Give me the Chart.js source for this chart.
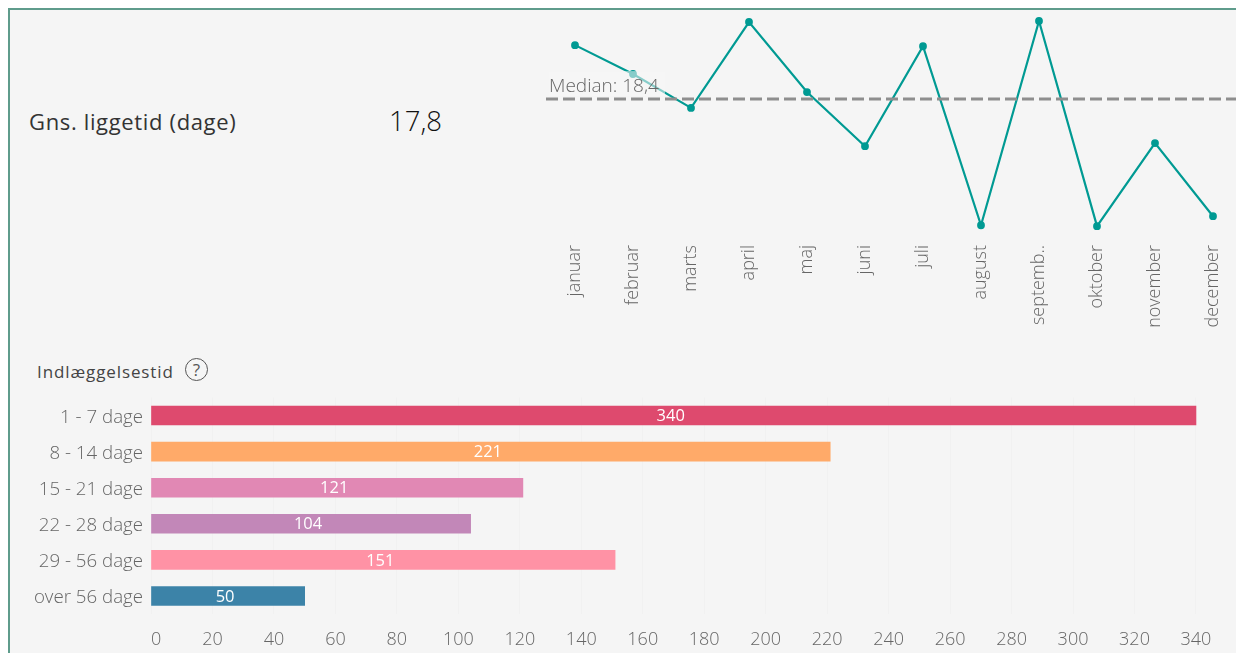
<!DOCTYPE html>
<html lang="da"><head><meta charset="utf-8">
<script src="https://cdn.jsdelivr.net/npm/chart.js@4"></script>
<style>
html,body{margin:0;padding:0;background:#fff}
body{width:1236px;height:653px;overflow:hidden;position:relative;font-family:"Open Sans",sans-serif}
#panel{position:absolute;left:8px;top:8px;width:1240px;height:660px;background:#f5f5f5;border-left:2px solid #5f9c8c;border-top:2px solid #5f9c8c;box-sizing:border-box}
.t{position:absolute;white-space:nowrap;line-height:1}
canvas{position:absolute}
</style></head><body>
<div id="panel"></div>
<div class="t" style="left:29px;top:110px;font-size:22px;color:#333;letter-spacing:.65px">Gns. liggetid (dage)</div>
<div class="t" style="left:389px;top:107px;font-size:27.5px;font-weight:300;color:#111">17,8</div>
<div class="t" style="left:37px;top:363px;font-size:17px;color:#444;letter-spacing:.9px">Indlæggelsestid</div>
<div class="t" style="left:185px;top:358px;width:21px;height:21px;border:1.5px solid #555;border-radius:50%;text-align:center;line-height:21px;font-size:17px;color:#555">?</div>
<canvas id="line" width="696" height="340" style="left:546px;top:0"></canvas>
<canvas id="bar" width="1236" height="263" style="left:0;top:390px"></canvas>
<script>
const months=["januar","februar","marts","april","maj","juni","juli","august","septemb..","oktober","november","december"];
const stayValues=[20.85,19.54,18.0,21.9,18.72,16.26,20.8,12.67,21.95,12.63,16.4,13.08];
const medianValue=18.4;
const medianLabel="Median: 18,4";
const stayGroups=["1 - 7 dage","8 - 14 dage","15 - 21 dage","22 - 28 dage","29 - 56 dage","over 56 dage"];
const groupCounts=[340,221,121,104,151,50];
const groupColors=["#DE4A6E","#FFAA69","#E188B4","#C287B8","#FF92A5","#3C83A8"];
const countTicks=[0,20,40,60,80,100,120,140,160,180,200,220,240,260,280,300,320,340,350];
const font='"Open Sans", sans-serif';
const lightTick={family:font,size:18,weight:300};
const groupTick={family:font,size:18.7,weight:300};

const medianPlugin={id:"median",afterDatasetsDraw(c){
  const g=c.ctx,y=c.scales.y.getPixelForValue(medianValue),a=c.chartArea;
  g.save();
  g.strokeStyle="#8e8e8e";g.lineWidth=3;g.setLineDash([12,5]);
  g.beginPath();g.moveTo(a.left,y);g.lineTo(a.right,y);g.stroke();
  g.setLineDash([]);
  g.fillStyle="rgba(245,245,245,.55)";g.fillRect(3,y-28,116,25);
  g.fillStyle="#666";g.font="300 19px "+font;g.textBaseline="alphabetic";g.textAlign="left";
  g.fillText(medianLabel,3,y-7);
  g.restore();
}};
new Chart(document.getElementById("line"),{
  type:"line",
  data:{labels:months,datasets:[{data:stayValues,borderColor:"#009A93",backgroundColor:"#009A93",borderWidth:2.2,pointRadius:2.8,pointHoverRadius:2.8,tension:0,clip:false}]},
  plugins:[medianPlugin],
  options:{responsive:false,animation:false,layout:{padding:0,autoPadding:false},
    plugins:{legend:{display:false},tooltip:{enabled:false}},
    scales:{
      y:{display:false,min:12,max:22.9},
      x:{offset:true,grid:{display:false,drawTicks:false},border:{display:false},
        afterFit(s){s.height=100;s.paddingLeft=0;s.paddingRight=0},
        ticks:{autoSkip:false,minRotation:90,maxRotation:90,padding:5,color:"#666",font:lightTick}}
    }}
});

const labelPlugin={id:"barLabels",afterDatasetsDraw(c){
  const g=c.ctx,m=c.getDatasetMeta(0);
  g.save();g.fillStyle="#fff";g.font="16.5px "+font;g.textAlign="center";g.textBaseline="middle";
  m.data.forEach((b,i)=>g.fillText(String(groupCounts[i]),(b.x+b.base)/2-3,b.y+1));
  g.restore();
}};
new Chart(document.getElementById("bar"),{
  type:"bar",
  data:{labels:stayGroups,datasets:[{data:groupCounts,backgroundColor:groupColors,barThickness:19}]},
  plugins:[labelPlugin],
  options:{indexAxis:"y",responsive:false,animation:false,
    layout:{padding:{top:7.5,right:9.3,left:0,bottom:0},autoPadding:false},
    plugins:{legend:{display:false},tooltip:{enabled:false}},
    scales:{
      y:{grid:{display:false,drawTicks:false},border:{display:false},
        afterFit(s){s.width=151;s.paddingTop=0;s.paddingBottom=0},
        ticks:{padding:8,labelOffset:2,autoSkip:false,color:"#666",font:groupTick}},
      x:{min:0,max:350,grid:{color(ctx){return ctx.tick&&ctx.tick.value===350?"rgba(0,0,0,0)":"rgba(0,0,0,.014)"},drawTicks:false},border:{display:false},
        afterBuildTicks(s){s.ticks=countTicks.map(v=>({value:v}))},
        afterFit(s){s.height=39;s.paddingLeft=0;s.paddingRight=0},
        ticks:{align:"inner",padding:15,color:"#666",font:lightTick,maxRotation:0,autoSkip:false,
          callback(v){return v===350?"":String(v)}}}
    }}
});
</script>
</body></html>
